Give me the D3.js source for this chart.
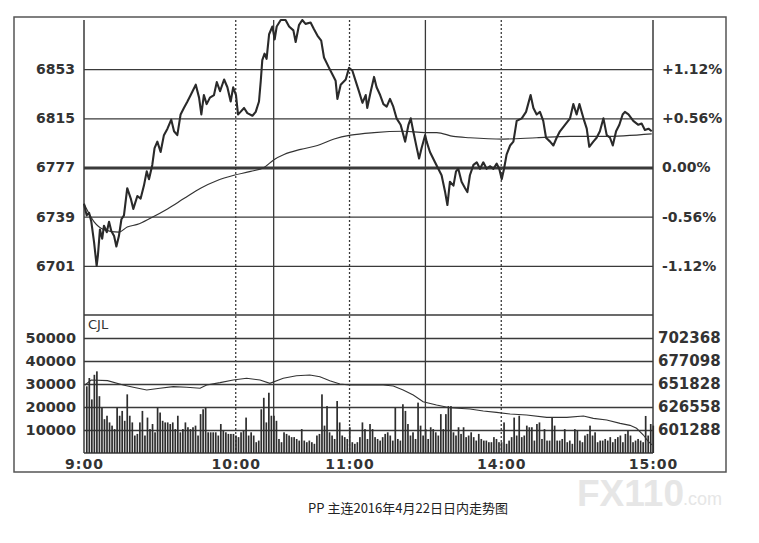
<!DOCTYPE html>
<html><head><meta charset="utf-8">
<script src="https://cdn.jsdelivr.net/npm/d3@7"></script>
<style>
body{margin:0;background:#fff}
svg text{font-family:"DejaVu Sans",sans-serif}
</style>
</head><body><svg id="c" width="759" height="543"></svg>
<script>
// ---- data (minutes counted in trading time from 9:00; session breaks removed) ----
const timeTickMinutes = [0, 60, 105, 165, 225];
const timeTickLabels = ["9:00", "10:00", "11:00", "14:00", "15:00"];
const dottedMinutes = [60, 105, 165];
const sessionBreakMinutes = [75, 135];

const priceTicks = [6853, 6815, 6777, 6739, 6701];
const pctLabels = ["+1.12%", "+0.56%", "0.00%", "-0.56%", "-1.12%"];
const volTicks = [50000, 40000, 30000, 20000, 10000];
const oiTicks = [702368, 677098, 651828, 626558, 601288];

const priceMinute = [0,1.05,2,2.9,4,5,5.5,6.3,7.2,7.9,9,9.9,10.8,11.9,12.8,13.8,14.8,15.8,17.1,18.5,19.5,21.1,22.4,23.7,24.8,25.7,27,27.9,29,30.3,31.6,33,34.5,35.6,36.9,38.2,39.5,40.9,42.2,44.2,45.5,46.4,47.4,48.5,49.8,51.4,52.5,53.8,55.4,56.7,58,59,60.1,60.9,61.9,63.3,64.6,66.6,67.9,69.2,69.9,70.5,71.4,72.2,73.2,74.5,75.4,76.2,77.8,79.7,81.1,82.8,83.7,85,86.3,87.6,89.6,90.9,92.3,93.8,94.9,96.9,98.2,99.5,100.2,101.5,103.5,104.8,106.1,107.4,108.7,110.1,111.4,112,113.4,114.7,115.7,117.1,118.4,119.7,121,122.3,123.6,125.2,127,128.3,129.2,130.2,131.6,132.5,133.5,134.9,135.5,136.8,138.8,140.1,141.4,142.8,143.7,144.7,146.1,147.1,148,149.3,150.7,151.6,152.6,154,155.3,156.6,157.9,159.2,160.5,161.9,163.2,164.2,165.2,166.1,167.1,168.5,169.8,171.1,173.1,174.8,176.6,177.7,179,180.3,181.6,182.7,184.3,185.6,186.9,188.2,190.2,192.2,193.5,194.8,195.9,197.5,198.8,199.8,201.4,202.7,204,205.4,206.7,208,209.1,210.4,211.7,213,213.9,215.3,217.2,219.2,220.5,221.8,223.2,224.5];
const priceValue = [6749,6740,6742,6735,6719,6701,6709,6729,6722,6732,6727,6735,6728,6724,6716,6724,6737,6740,6761,6753,6745,6755,6753,6763,6774,6768,6779,6792,6797,6789,6802,6807,6814,6805,6802,6818,6823,6828,6833,6841,6831,6818,6833,6826,6831,6833,6843,6836,6845,6839,6828,6839,6833,6818,6820,6823,6819,6817,6820,6828,6844,6860,6865,6861,6880,6886,6876,6886,6891,6891,6886,6883,6874,6887,6891,6888,6889,6884,6879,6875,6862,6854,6849,6844,6830,6841,6845,6854,6852,6844,6836,6827,6833,6823,6836,6847,6839,6833,6826,6824,6830,6824,6815,6810,6797,6810,6815,6805,6792,6784,6792,6802,6797,6789,6781,6776,6771,6758,6748,6766,6763,6774,6776,6766,6761,6758,6771,6779,6781,6776,6781,6776,6778,6776,6780,6776,6768,6776,6787,6794,6797,6813,6815,6820,6833,6823,6818,6820,6813,6800,6797,6794,6800,6805,6810,6815,6826,6818,6826,6815,6807,6793,6797,6800,6805,6815,6802,6800,6794,6805,6810,6818,6820,6818,6813,6810,6811,6806,6807,6805];

const avgMinute = [0,4,7.9,13.8,17.1,21.1,26.4,33,39.5,46.1,52.7,59.3,65.9,71.2,75.1,79.1,85.7,92.3,98.9,105.4,114.7,126.3,134.9,139.5,146.1,152.6,165.8,179,192.2,205.4,224.5];
const avgValue = [6749,6735,6729,6727,6731,6733,6738,6745,6753,6761,6767,6771,6774,6777,6783,6787,6791,6794,6799,6802,6804,6805,6804,6804,6801,6800,6799,6800,6801,6801,6803];

const volume = [
29000,32600,23300,34000,35500,24700,19700,14700,16200,13300,11900,10400,19700,16200,18300,14000,25500,16200,13300,7600,
8300,13300,18300,7600,15400,10400,12600,9000,19700,17600,14000,13300,13300,12600,13300,10400,16200,9000,10400,13300,
11200,10400,11200,11900,7600,16900,19000,19700,9000,9000,9000,9000,7600,12600,9700,9000,8300,8300,8300,7600,
6900,9000,9700,15400,7600,9000,7600,
4700,5400,19000,24000,13300,26200,16200,16200,14000,6100,4700,9000,8300,7600,6900,6900,6100,5400,10400,5400,
4700,5400,4700,4000,7600,8300,25500,11900,20400,9000,7600,6100,22600,13300,7600,6900,6100,11200,4700,4000,
4700,6900,13300,10400,6100,12600,10400,6900,6100,5400,6900,8300,9000,7600,5400,19700,6100,5400,21200,18300,
12600,7600,9000,6100,21900,11900,7600,10400,6100,11200,10400,9000,7600,16900,10400,16900,20400,20400,9000,7600,
11200,8300,11200,6900,7600,9000,6900,5400,8300,6100,5400,5400,4700,4700,6900,6100,4700,4700,13300,4000,5400,
6900,15400,7600,16200,6900,7600,11900,11200,11200,5400,12600,13300,6100,10400,5400,5400,15400,11900,5400,5400,
6100,10400,4700,5400,4000,10400,9700,5400,4700,7600,8300,11900,7600,9000,4700,5400,5400,6100,5400,6900,
4700,6100,6900,7600,4700,8300,9700,7600,4700,5400,6100,5400,4700,16100,7600,12600,11900];

const oiMinute = [0.4,2.8,9.3,15.5,19.5,24.8,30,35.3,40.6,45.9,48.5,53.8,59,64.3,69.6,73.5,78.8,84,89.3,93.3,97.2,101.2,105.1,118.3,122.3,126.2,130.2,134.1,139.4,144.7,152.6,157.9,163.1,168.5,175,183,190.9,197.5,201.4,206.7,212,215.9,218.5,221.2,223.2,224.6];
const oiValue = [650700,656200,655500,650700,648200,645200,647100,648900,648200,647100,650700,653300,656200,658100,656200,652600,658100,660900,661700,659800,655500,651800,650700,650700,649600,645200,639700,632400,628800,625800,624400,622200,620700,618900,617800,615200,615200,616700,614100,612300,608600,606400,603200,595800,588400,585000];

// ---- layout ----
const L = 84, R = 653, T = 20, PB = 315, VB = 453;
const ink = "#3a3a3a";
const svg = d3.select("#c");

const x = d3.scaleLinear().domain([0, 225]).range([L, R]);
const yP = d3.scaleLinear().domain([6663, 6891]).range([PB, T]);
const yV = d3.scaleLinear().domain([0, 60000]).range([VB, PB]);
const yO = d3.scaleLinear().domain([576018, 727638]).range([VB, PB]);

// watermark
svg.append("text").attr("x", 577).attr("y", 506)
  .attr("font-weight", "bold").attr("font-size", 37).attr("fill", "#e6e6e6").style("font-family","Liberation Sans").text("FX110");
svg.append("text").attr("x", 683).attr("y", 505).attr("font-size", 18).attr("fill", "#e6e6e6").style("font-family","Liberation Sans").text(".com");

// outer frame
svg.append("rect").attr("x", 14).attr("y", 17).attr("width", 712).attr("height", 455)
  .attr("fill", "none").attr("stroke", "#555").attr("stroke-width", 1.5);

// price grid + labels
const gP = svg.append("g").attr("transform", `translate(${L},0)`)
  .call(d3.axisLeft(yP).tickValues(priceTicks).tickSize(-(R - L)).tickPadding(9).tickFormat(d3.format("d")));
gP.select(".domain").remove();
gP.selectAll(".tick line").attr("stroke", ink).attr("stroke-width", d => d === 6777 ? 3.2 : 1.3);
gP.selectAll(".tick text").attr("font-size", 14).attr("font-weight", "bold").attr("fill", "#333").style("font-family","DejaVu Sans");

const gPR = svg.append("g").attr("transform", `translate(${R},0)`)
  .call(d3.axisRight(yP).tickValues(priceTicks).tickSize(0).tickPadding(9).tickFormat((d, i) => pctLabels[i]));
gPR.select(".domain").remove();
gPR.selectAll(".tick text").attr("font-size", 14).attr("font-weight", "bold").attr("fill", "#333").style("font-family","DejaVu Sans");

// volume grid + labels
const gV = svg.append("g").attr("transform", `translate(${L},0)`)
  .call(d3.axisLeft(yV).tickValues(volTicks).tickSize(-(R - L)).tickPadding(8).tickFormat(d3.format("d")));
gV.select(".domain").remove();
gV.selectAll(".tick line").attr("stroke", ink).attr("stroke-width", 1.3);
gV.selectAll(".tick text").attr("font-size", 14.5).attr("font-weight", "bold").attr("fill", "#333").style("font-family","DejaVu Sans");

const gO = svg.append("g").attr("transform", `translate(${R},0)`)
  .call(d3.axisRight(yO).tickValues(oiTicks).tickSize(0).tickPadding(5).tickFormat(d3.format("d")));
gO.select(".domain").remove();
gO.selectAll(".tick text").attr("font-size", 15).attr("font-weight", "bold").attr("fill", "#333").style("font-family","DejaVu Sans");

// panel separators & borders
const hl = (y, w) => svg.append("line").attr("x1", L).attr("x2", R).attr("y1", y).attr("y2", y).attr("stroke", ink).attr("stroke-width", w);
hl(PB, 1.5); hl(VB, 1.5);
const vl = (xx, dash, w) => svg.append("line").attr("x1", xx).attr("x2", xx).attr("y1", T).attr("y2", VB)
  .attr("stroke", ink).attr("stroke-width", w).attr("stroke-dasharray", dash);
vl(L, null, 1.5); vl(R, null, 1.5);
sessionBreakMinutes.forEach(m => vl(x(m), null, 1.3));
dottedMinutes.forEach(m => vl(x(m), "2,2", 1.3));

// volume bars
svg.append("g").selectAll("rect").data(volume).join("rect")
  .attr("x", (d, i) => x(i + 1.1) - 0.85).attr("width", 1.7)
  .attr("y", d => yV(d)).attr("height", d => VB - yV(d)).attr("fill", "#2e2e2e");

// open interest line
svg.append("path").datum(oiMinute.map((m, i) => [m, oiValue[i]]))
  .attr("d", d3.line().x(d => x(d[0])).y(d => yO(d[1])))
  .attr("fill", "none").attr("stroke", "#333").attr("stroke-width", 1.1);

// average price line
svg.append("path").datum(avgMinute.map((m, i) => [m, avgValue[i]]))
  .attr("d", d3.line().curve(d3.curveMonotoneX).x(d => x(d[0])).y(d => yP(d[1])))
  .attr("fill", "none").attr("stroke", "#333").attr("stroke-width", 1.2);

// price line
svg.append("path").datum(priceMinute.map((m, i) => [m, priceValue[i]]))
  .attr("d", d3.line().x(d => x(d[0])).y(d => yP(d[1])))
  .attr("fill", "none").attr("stroke", "#2a2a2a").attr("stroke-width", 2.1).attr("stroke-linejoin", "round");

// CJL label
svg.append("text").attr("x", 88).attr("y", 329).attr("font-size", 13).attr("fill", "#333").style("font-family","DejaVu Sans").text("CJL");

// time axis
const gX = svg.append("g").attr("transform", `translate(0,${VB})`)
  .call(d3.axisBottom(x).tickValues(timeTickMinutes).tickSize(0).tickPadding(6).tickFormat((d, i) => timeTickLabels[i]));
gX.select(".domain").remove();
gX.selectAll(".tick text").attr("font-size", 14).attr("font-weight", "bold").attr("fill", "#333")
  .attr("letter-spacing", 1).style("font-family","DejaVu Sans");

// caption
svg.append("text").attr("x", 408).attr("y", 513).attr("text-anchor", "middle").attr("font-size", 13)
  .attr("fill", "#222").style("font-family", "Noto Sans CJK SC").text("PP 主连2016年4月22日日内走势图");
</script>
</body></html>
